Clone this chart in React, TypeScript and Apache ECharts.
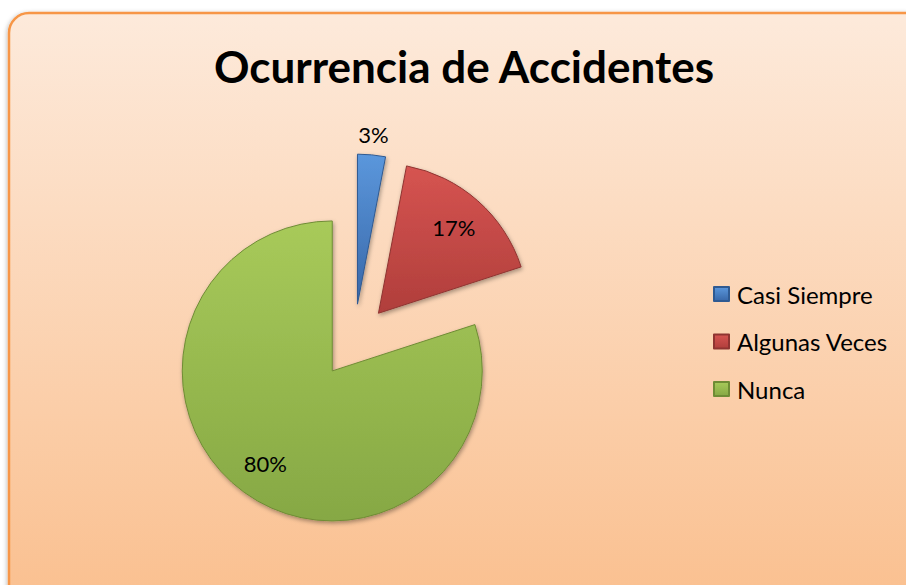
import React, { useEffect, useRef } from "react";
import * as echarts from "echarts";

const titleText = "Ocurrencia de Accidentes";
const categories = ["Casi Siempre", "Algunas Veces", "Nunca"];
const values = [3, 17, 80];
const topColors = ["#5b97dc", "#d65451", "#a8ca5a"];
const bottomColors = ["#3867a8", "#b03e3b", "#86a844"];
const borderColors = ["#2f5a92", "#8f3431", "#6f8c35"];

const FONT = "Lato, 'Open Sans', sans-serif";

export default function App() {
  const ref = useRef<HTMLDivElement>(null);
  useEffect(() => {
    if (!ref.current) return;
    const chart = echarts.init(ref.current, null, { renderer: "svg" });
    const center = [354, 341];
    const offset = 37;
    const mainData = categories.map((name, i) => ({
      name,
      value: values[i],
      selected: true,
      itemStyle: {
        color: new echarts.graphic.LinearGradient(0, 0, 0, 1, [
          { offset: 0, color: topColors[i] },
          { offset: 1, color: bottomColors[i] },
        ]),
        borderColor: borderColors[i],
        borderWidth: 1,
        shadowBlur: 4,
        shadowColor: "rgba(0,0,0,0.35)",
        shadowOffsetX: 1,
        shadowOffsetY: 2,
      },
    }));
    const labelData = (show: boolean[]) =>
      categories.map((name, i) => ({
        name,
        value: values[i],
        selected: true,
        label: { show: show[i] },
      }));
    const labelSeriesBase = {
      type: "pie",
      center,
      selectedMode: "multiple",
      selectedOffset: offset,
      silent: true,
      animation: false,
      avoidLabelOverlap: false,
      itemStyle: { color: "rgba(0,0,0,0)", borderWidth: 0 },
      select: { itemStyle: { color: "rgba(0,0,0,0)", borderWidth: 0 } },
      emphasis: { disabled: true },
      labelLine: { show: false },
      label: {
        position: "inside",
        formatter: "{c}%",
        color: "#000",
        fontSize: 22,
        fontFamily: FONT,
      },
    };
    chart.setOption({
      animation: false,
      backgroundColor: "#ffffff",
      graphic: [
        {
          type: "rect",
          z: -10,
          shape: { x: 9, y: 13, width: 920, height: 600, r: 20 },
          style: {
            fill: new echarts.graphic.LinearGradient(0, 0, 0, 1, [
              { offset: 0, color: "#fdeadb" },
              { offset: 1, color: "#fabf8e" },
            ]),
            stroke: "#f79646",
            lineWidth: 2.5,
            shadowBlur: 4,
            shadowColor: "rgba(0,0,0,0.25)",
            shadowOffsetX: -1,
            shadowOffsetY: 1,
          },
        },
        {
          type: "text",
          x: 464,
          y: 66,
          style: {
            text: titleText,
            textAlign: "center",
            textVerticalAlign: "middle",
            fontSize: 44,
            fontWeight: "bold",
            fontFamily: FONT,
            fill: "#000",
          },
        },
      ],
      legend: {
        orient: "vertical",
        left: 713,
        top: 282,
        data: categories,
        icon: "rect",
        itemWidth: 15,
        itemHeight: 14,
        itemGap: 23.5,
        padding: 0,
        selectedMode: false,
        textStyle: {
          fontSize: 24,
          fontFamily: FONT,
          color: "#000",
          padding: [0, 0, 0, 3],
          lineHeight: 22,
        },
      },
      series: [
        {
          type: "pie",
          name: "main",
          center,
          radius: [0, 150],
          selectedMode: "multiple",
          selectedOffset: offset,
          label: { show: false },
          labelLine: { show: false },
          emphasis: { disabled: true },
          data: mainData,
        },
        {
          ...labelSeriesBase,
          radius: [0, 222],
          data: labelData([false, true, true]),
        },
        {
          ...labelSeriesBase,
          radius: [150, 184],
          data: labelData([true, false, false]),
        },
      ],
    });
    return () => chart.dispose();
  }, []);
  return (
    <div
      ref={ref}
      style={{ position: "fixed", left: 0, top: 0, width: 906, height: 585 }}
    />
  );
}
